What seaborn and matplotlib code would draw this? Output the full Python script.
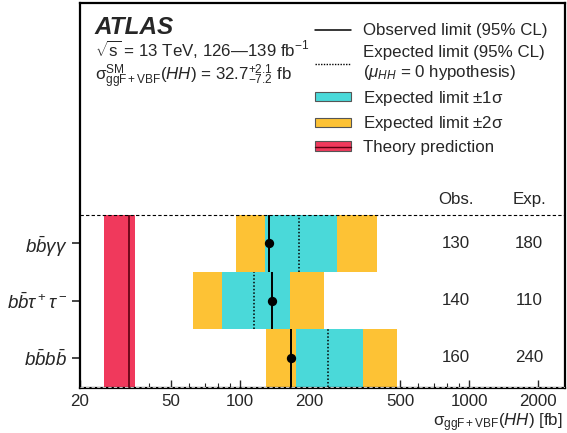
import numpy as np
import pandas as pd
import matplotlib
matplotlib.use("Agg")
import matplotlib.pyplot as plt
import matplotlib.ticker as mticker
import matplotlib.transforms as mtrans
from matplotlib.lines import Line2D
from matplotlib.patches import Patch
import seaborn as sns

# ---------------- data ----------------
channels = [r"$b\bar{b}\gamma\gamma$", r"$b\bar{b}\tau^+\tau^-$", r"$b\bar{b}b\bar{b}$"]
row_pos = [3, 2, 1]
obs_limit = [134, 138, 166]
exp_limit = [180, 115, 243]
exp_m2 = [96, 62, 130]
exp_m1 = [129, 83, 175]
exp_p1 = [265, 165, 345]
exp_p2 = [396, 233, 484]
obs_text = ["130", "140", "160"]
exp_text = ["180", "110", "240"]

# combined row (mostly outside the visible range)
comb_pos = [0]
comb_m2 = [46]
comb_m1 = [62]
comb_p1 = [122]
comb_p2 = [170]

theory_central = 32.7
theory_up = 2.1
theory_down = 7.2

xticks = [20, 50, 100, 200, 500, 1000, 2000]
xtick_labels = ["20", "50", "100", "200", "500", "1000", "2000"]

# ---------------- style ----------------
sns.set_theme(style="ticks")
plt.rcParams["font.family"] = ["Liberation Sans", "DejaVu Sans"]
plt.rcParams["mathtext.fontset"] = "custom"
plt.rcParams["mathtext.rm"] = "Liberation Sans"
plt.rcParams["mathtext.it"] = "Liberation Sans:italic"
plt.rcParams["mathtext.bf"] = "Liberation Sans:bold"

CYAN = "#4ad9d9"
YELLOW = "#fdc235"
RED = "#f0395c"
FS = 12.2

W, H = 567, 433
fig = plt.figure(figsize=(W / 100, H / 100), dpi=100)
ax = fig.add_axes([80 / W, 1 - 388 / H, 485 / W, 385 / H])

df = pd.DataFrame({"pos": row_pos, "obs": obs_limit, "exp": exp_limit,
                   "m2": exp_m2, "m1": exp_m1, "p1": exp_p1, "p2": exp_p2})

ax.set_xscale("log")
ax.set_xlim(20, 2620)
ax.set_ylim(0.476, 7.2)

# combined row (clipped)
ax.barh(comb_pos, np.array(comb_p2) - np.array(comb_m2), left=comb_m2, height=1,
        color=YELLOW, lw=0, zorder=1)
ax.barh(comb_pos, np.array(comb_p1) - np.array(comb_m1), left=comb_m1, height=1,
        color=CYAN, lw=0, zorder=1.1)

# bands
ax.barh(df["pos"], df["p2"] - df["m2"], left=df["m2"], height=1, color=YELLOW, lw=0, zorder=2)
ax.barh(df["pos"], df["p1"] - df["m1"], left=df["m1"], height=1, color=CYAN, lw=0, zorder=2.1)

# theory band
ax.fill_betweenx([0.3, 3.5], theory_central - theory_down, theory_central + theory_up,
                 color=RED, lw=0, zorder=2)
ax.vlines(theory_central, 0.3, 3.5, color="#5a0010", lw=1.2, zorder=3)

# limits
ax.vlines(df["obs"], df["pos"] - 0.5, df["pos"] + 0.5, color="black", lw=1.4, zorder=4)
ax.vlines(df["exp"], df["pos"] - 0.5, df["pos"] + 0.5, color="black", lw=1.1,
          linestyles=(0, (1, 1.3)), zorder=4)
sns.scatterplot(data=df, x="obs", y="pos", color="black", s=45, edgecolor="black",
                linewidth=0, zorder=5, ax=ax, legend=False)

# separators
ax.axhline(3.5, color="black", lw=0.8, ls=(0, (3, 2)), zorder=6)
ax.axhline(0.5, color="#bbbbbb", lw=0.8, ls=(0, (3, 2)), zorder=6)

# axes formatting
ax.set_yticks(row_pos)
ax.set_yticklabels(channels, fontsize=13.5)
ax.tick_params(axis="y", direction="out", length=6, width=1.2, pad=3)
ax.xaxis.set_major_locator(mticker.FixedLocator(xticks))
ax.xaxis.set_major_formatter(mticker.FixedFormatter(xtick_labels))
minor = [v for d in [10, 100, 1000] for v in np.arange(2, 10) * d
         if 20 <= v <= 2600 and v not in xticks]
ax.xaxis.set_minor_locator(mticker.FixedLocator(minor))
ax.xaxis.set_minor_formatter(mticker.NullFormatter())
ax.tick_params(axis="x", which="major", direction="in", length=6, width=1, labelsize=FS, pad=4)
ax.tick_params(axis="x", which="minor", direction="in", length=3.5, width=0.8)
ax.set_xlabel("")
ax.set_ylabel("")
for s in ax.spines.values():
    s.set_linewidth(1.6)
    s.set_color("black")
    s.set_visible(True)


def fx(px):
    return px / W


def fy(py):
    return 1 - py / H


# x label
fig.text(fx(563), fy(423), r"σ$_{\mathrm{ggF+VBF}}$($HH$) [fb]", fontsize=FS,
         ha="right", va="center")

# ATLAS label and info
fig.text(fx(95), fy(34), "ATLAS", fontsize=17.5, fontweight="bold", fontstyle="italic",
         ha="left", va="baseline")
fig.text(fx(95), fy(57), r"$\sqrt{\mathrm{s}}$ = 13 TeV, 126—139 fb$^{-1}$", fontsize=FS,
         ha="left", va="baseline")
fig.text(fx(95), fy(81),
         r"σ$^{\mathrm{SM}}_{\mathrm{ggF+VBF}}$($HH$) = 32.7$^{+2.1}_{-7.2}$ fb",
         fontsize=FS, ha="left", va="baseline")

# column headers and values
fig.text(fx(456), fy(199), "Obs.", fontsize=FS, ha="center", va="center")
fig.text(fx(529), fy(199), "Exp.", fontsize=FS, ha="center", va="center")
blend = mtrans.blended_transform_factory(fig.transFigure, ax.transData)
for p, o, e in zip(row_pos, obs_text, exp_text):
    ax.text(fx(456), p, o, fontsize=FS, ha="center", va="center", transform=blend)
    ax.text(fx(529), p, e, fontsize=FS, ha="center", va="center", transform=blend)

# legend
h_obs = Line2D([], [], color="black", lw=1.1)
h_exp = Line2D([], [], color="black", lw=1.0, ls=(0, (1, 1)))
h_1s = Patch(facecolor=CYAN, edgecolor="#555555", lw=0.8)
h_2s = Patch(facecolor=YELLOW, edgecolor="#555555", lw=0.8)
h_th = (Patch(facecolor=RED, edgecolor="#555555", lw=0.8),
        Line2D([], [], color="#5a0010", lw=1.0))
leg = fig.legend([h_obs, h_exp, h_1s, h_2s, h_th],
                 ["Observed limit (95% CL)",
                  "Expected limit (95% CL)\n($\\mu_{HH}$ = 0 hypothesis)",
                  r"Expected limit $\pm$1σ", r"Expected limit $\pm$2σ", "Theory prediction"],
                 loc="upper left", bbox_to_anchor=(fx(315), fy(23)), frameon=False,
                 fontsize=FS, handlelength=2.1, handleheight=0.45, handletextpad=0.75,
                 labelspacing=0.39, borderpad=0, borderaxespad=0)
for t in leg.get_texts():
    t.set_linespacing(1.26)

fig.savefig("out.png", dpi=100)
